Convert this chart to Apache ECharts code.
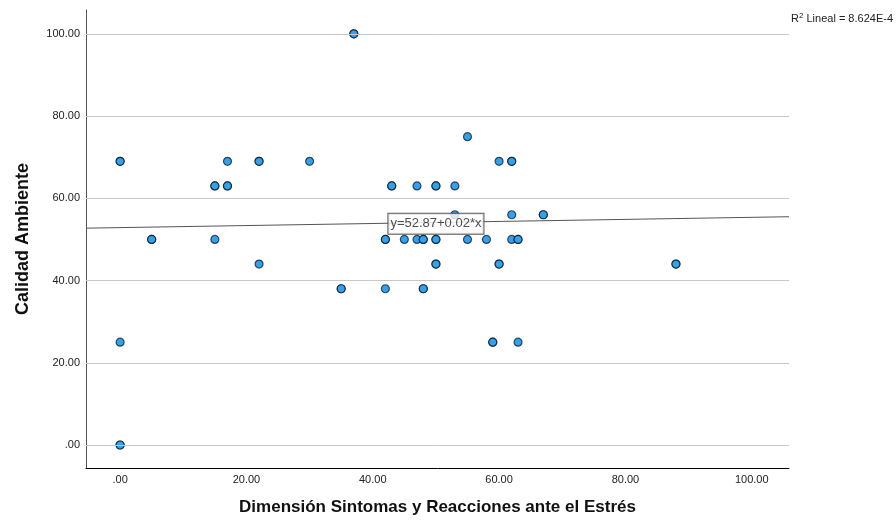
<!DOCTYPE html>
<html>
<head>
<meta charset="utf-8">
<script src="https://cdn.jsdelivr.net/npm/echarts@6/dist/echarts.min.js"></script>
<style>
  html, body { margin: 0; padding: 0; background: #fff; }
  #chart { width: 896px; height: 521px; }
</style>
</head>
<body>
<div id="chart"></div>
<script>
// datos (x = sintomas, y = calidad ambiente)
var xVals = [37, 37, 0, 0, 17, 22, 22, 30, 60, 62, 62, 15, 15, 17, 17, 43, 43, 47, 50, 50, 53,
             55, 53, 62, 67, 67, 5, 5, 15, 42, 42, 45, 47, 48, 48, 50, 50, 55, 58, 62, 63, 63,
             22, 50, 50, 60, 60, 88, 88, 35, 35, 42, 48, 48, 0, 59, 59, 63, 0, 0];
var yVals = [100, 100, 69, 69, 69, 69, 69, 69, 69, 69, 69, 63, 63, 63, 63, 63, 63, 63, 63, 63, 63,
             75, 56, 56, 56, 56, 50, 50, 50, 50, 50, 50, 50, 50, 50, 50, 50, 50, 50, 50, 50, 50,
             44, 44, 44, 44, 44, 44, 44, 38, 38, 38, 38, 38, 25, 25, 25, 25, 0, 0];
var tickVals = [0, 20, 40, 60, 80, 100];
var tickLabels = ['.00', '20.00', '40.00', '60.00', '80.00', '100.00'];

var xMin = -5.4, xMax = 105.9;
var yMin = -5.6, yMax = 105.8;

// recta de ajuste
var intercept = 52.87;
var slope = 0.025;
var fitLabel = 'y=52.87+0.02*x';
var r2Label = 'Lineal = 8.624E-4';

var points = [];
for (var i = 0; i < xVals.length; i++) {
	points.push([xVals[i], yVals[i]]);
}
var fitLine = [[xMin, intercept + slope * xMin], [xMax, intercept + slope * xMax]];

function fmt(v) {
	var i = tickVals.indexOf(Math.round(v * 100) / 100);
	return i >= 0 ? tickLabels[i] : '';
}

var chart = echarts.init(document.getElementById('chart'));
var option = {
	animation: false,
	backgroundColor: '#fff',
	textStyle: { fontFamily: 'Liberation Sans, Arial, sans-serif' },
	grid: { left: 86, right: 107, top: 10, bottom: 50, containLabel: false },
	xAxis: {
		type: 'value',
		min: xMin,
		max: xMax,
		name: 'Dimensión Sintomas y Reacciones ante el Estrés',
		nameLocation: 'middle',
		nameGap: 31,
		nameTextStyle: { fontSize: 17, fontWeight: 'bold', color: '#111' },
		axisLine: { show: true, onZero: false, lineStyle: { color: '#000', width: 1 } },
		axisTick: { show: false, customValues: tickVals },
		axisLabel: { customValues: tickVals, formatter: fmt, fontSize: 11, color: '#222', margin: 6 },
		splitLine: { show: false }
	},
	yAxis: {
		type: 'value',
		min: yMin,
		max: yMax,
		name: 'Calidad Ambiente',
		nameLocation: 'middle',
		nameGap: 54,
		nameTextStyle: { fontSize: 18, fontWeight: 'bold', color: '#111' },
		axisLine: { show: true, onZero: false, lineStyle: { color: '#555', width: 1 } },
		axisTick: { show: false, customValues: tickVals },
		axisLabel: { customValues: tickVals, formatter: fmt, fontSize: 11, color: '#222', margin: 6 },
		splitLine: { show: false }
	},
	series: [
		{
			type: 'line',
			data: fitLine,
			symbol: 'none',
			silent: true,
			z: 1,
			lineStyle: { color: '#555', width: 1 },
			markLine: {
				silent: true,
				symbol: 'none',
				label: { show: false },
				lineStyle: { color: '#c8c8c8', width: 1, type: 'solid' },
				data: tickVals.map(function (v) { return { yAxis: v }; })
			}
		},
		{
			type: 'scatter',
			data: points,
			symbolSize: 8,
			z: 3,
			itemStyle: {
				color: '#31a2f0',
				borderColor: 'rgba(0,0,0,0.65)',
				borderWidth: 1.2,
				opacity: 1
			}
		},
		{
			type: 'scatter',
			data: [[50.0, 53.8]],
			symbolSize: 0,
			z: 5,
			silent: true,
			label: {
				show: true,
				position: 'inside',
				formatter: fitLabel,
				fontSize: 13,
				color: '#222',
				backgroundColor: '#fff',
				borderColor: '#333',
				borderWidth: 1,
				padding: [4, 2, 3, 2]
			}
		}
	],
	graphic: [
		{
			type: 'text',
			right: 3,
			top: 12,
			style: {
				text: '{s|R}{sup|2}{s| ' + r2Label + '}',
				rich: {
					s: { fontSize: 11, fill: '#222', fontFamily: 'Liberation Sans, Arial, sans-serif' },
					sup: { fontSize: 8, fill: '#222', verticalAlign: 'top', padding: [0, 0, 6, 0], fontFamily: 'Liberation Sans, Arial, sans-serif' }
				}
			}
		}
	]
};
chart.setOption(option);
</script>
</body>
</html>
